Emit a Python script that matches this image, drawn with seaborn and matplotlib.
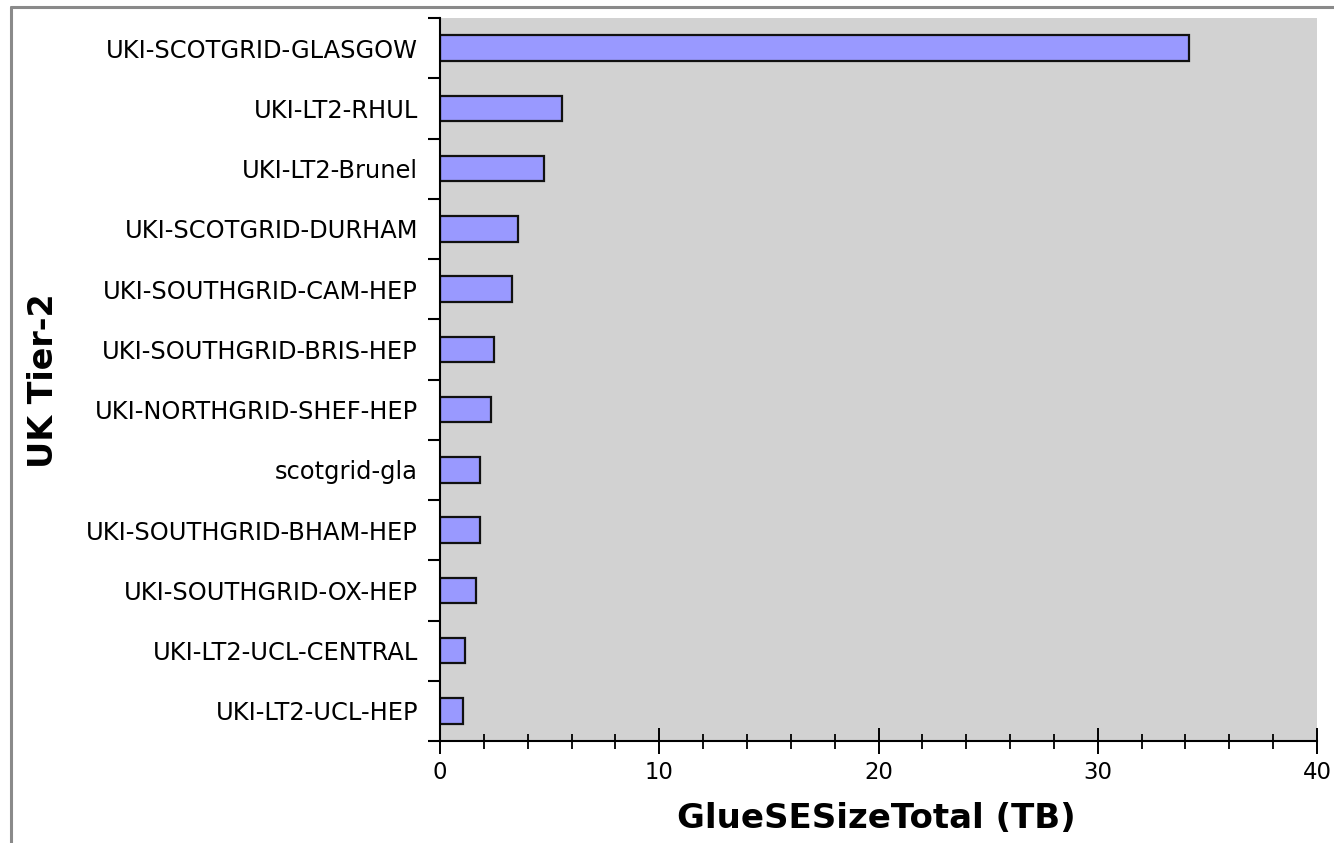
import numpy as np
import pandas as pd
import seaborn as sns
import matplotlib.pyplot as plt
from matplotlib.lines import Line2D
from matplotlib.ticker import MultipleLocator, FixedLocator

sites = [
    'UKI-SCOTGRID-GLASGOW', 'UKI-LT2-RHUL', 'UKI-LT2-Brunel', 'UKI-SCOTGRID-DURHAM',
    'UKI-SOUTHGRID-CAM-HEP', 'UKI-SOUTHGRID-BRIS-HEP', 'UKI-NORTHGRID-SHEF-HEP',
    'scotgrid-gla', 'UKI-SOUTHGRID-BHAM-HEP', 'UKI-SOUTHGRID-OX-HEP',
    'UKI-LT2-UCL-CENTRAL', 'UKI-LT2-UCL-HEP',
]
size_tb = [34.15, 5.57, 4.74, 3.56, 3.27, 2.46, 2.33, 1.84, 1.84, 1.66, 1.15, 1.03]

df = pd.DataFrame({'site': sites, 'size': size_tb})

sns.set_style('white')
plt.rcParams['font.family'] = ['DejaVu Sans']

fig = plt.figure(figsize=(13.34, 8.43), dpi=100)
ax = fig.add_axes([440 / 1334, 1 - 741 / 843, 877 / 1334, 723 / 843])
ax.set_facecolor('#d2d2d2')

sns.barplot(data=df, y='site', x='size', orient='h', color='#9999ff',
            saturation=1, width=0.42, edgecolor='#111111', linewidth=1.6, ax=ax)

ax.set_xlim(0, 40)
ax.set_ylim(len(sites) - 0.5, -0.5)

for s in ['top', 'right']:
    ax.spines[s].set_visible(False)
for s in ['left', 'bottom']:
    ax.spines[s].set_color('black')
    ax.spines[s].set_linewidth(1.5)

# y: labels at centres, ticks at category boundaries
ax.tick_params(axis='y', which='major', left=True, length=0, pad=15.8,
               labelsize=17.4, labelcolor='black')
ax.yaxis.set_minor_locator(FixedLocator(np.arange(-0.5, len(sites), 1)))
ax.tick_params(axis='y', which='minor', left=True, length=8.6, width=1.5,
               direction='out', color='black')

ax.xaxis.set_major_locator(MultipleLocator(10))
ax.xaxis.set_minor_locator(MultipleLocator(2))
ax.tick_params(axis='x', which='major', bottom=True, length=19.4, width=1.4,
               direction='inout', pad=5, labelsize=16.4, color='black', labelcolor='black')
ax.tick_params(axis='x', which='minor', bottom=True, length=10.8, width=1.3,
               direction='inout', color='black')

ax.set_xlabel('GlueSESizeTotal (TB)', fontsize=24.5, fontweight='bold', color='black')
ax.set_ylabel('UK Tier-2', fontsize=24, fontweight='bold', color='black')
ax.xaxis.set_label_coords(0.497, -0.084)
ax.yaxis.set_label_coords(-0.433, 0.498)

# outer frame
fig.add_artist(Line2D([11 / 1334, 1.0], [1 - 7 / 843, 1 - 7 / 843], color='#8a8a8a', lw=2.2))
fig.add_artist(Line2D([11 / 1334, 11 / 1334], [0.0, 1 - 7 / 843], color='#8a8a8a', lw=2.2))

fig.savefig('out.png', dpi=100)
